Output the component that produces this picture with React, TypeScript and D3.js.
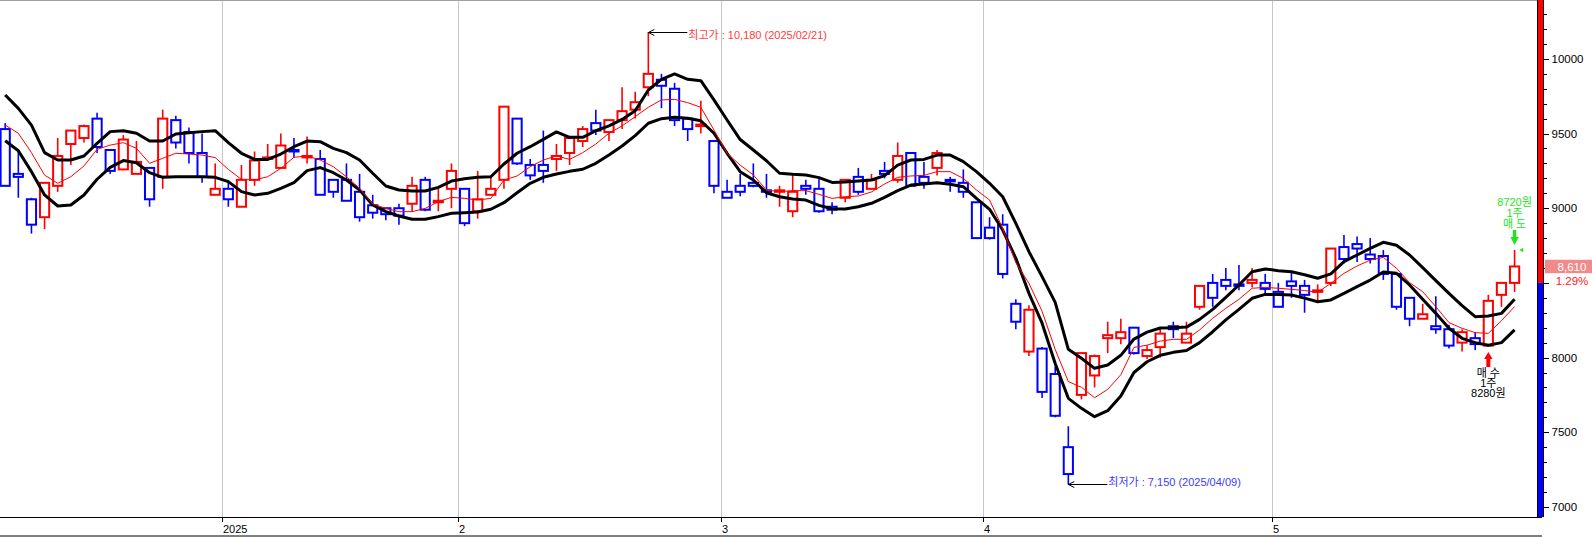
// @ts-nocheck
import React, { useEffect, useRef } from "react";
import * as d3 from "d3";

// trading days shown on the chart
const dates = [
  "2024-12-05", "2024-12-06", "2024-12-09", "2024-12-10", "2024-12-11", "2024-12-12", "2024-12-13",
  "2024-12-16", "2024-12-17", "2024-12-18", "2024-12-19", "2024-12-20", "2024-12-23", "2024-12-24",
  "2024-12-26", "2024-12-27", "2024-12-30",
  "2025-01-02", "2025-01-03", "2025-01-06", "2025-01-07", "2025-01-08", "2025-01-09", "2025-01-10",
  "2025-01-13", "2025-01-14", "2025-01-15", "2025-01-16", "2025-01-17", "2025-01-20", "2025-01-21",
  "2025-01-22", "2025-01-23", "2025-01-24", "2025-01-31",
  "2025-02-03", "2025-02-04", "2025-02-05", "2025-02-06", "2025-02-07", "2025-02-10", "2025-02-11",
  "2025-02-12", "2025-02-13", "2025-02-14", "2025-02-17", "2025-02-18", "2025-02-19", "2025-02-20",
  "2025-02-21", "2025-02-24", "2025-02-25", "2025-02-26", "2025-02-27", "2025-02-28",
  "2025-03-04", "2025-03-05", "2025-03-06", "2025-03-07", "2025-03-10", "2025-03-11", "2025-03-12",
  "2025-03-13", "2025-03-14", "2025-03-17", "2025-03-18", "2025-03-19", "2025-03-20", "2025-03-21",
  "2025-03-24", "2025-03-25", "2025-03-26", "2025-03-27", "2025-03-28", "2025-03-31",
  "2025-04-01", "2025-04-02", "2025-04-03", "2025-04-04", "2025-04-07", "2025-04-08", "2025-04-09",
  "2025-04-10", "2025-04-11", "2025-04-14", "2025-04-15", "2025-04-16", "2025-04-17", "2025-04-18",
  "2025-04-21", "2025-04-22", "2025-04-23", "2025-04-24", "2025-04-25", "2025-04-28", "2025-04-29",
  "2025-04-30",
  "2025-05-02", "2025-05-07", "2025-05-08", "2025-05-09", "2025-05-12", "2025-05-13", "2025-05-14",
  "2025-05-15", "2025-05-16", "2025-05-19", "2025-05-20", "2025-05-21", "2025-05-22", "2025-05-23",
  "2025-05-26", "2025-05-27", "2025-05-28", "2025-05-29", "2025-05-30",
];

const opens = [
  9530, 9230, 9060, 8940, 9150, 9430, 9470, 9600, 9390, 9260, 9230, 9270, 9210, 9590, 9510, 9370, 9090,
  9130, 9010, 9190, 9330, 9270, 9390, 9340, 9330, 9190, 9190, 9110, 9020, 9000, 9000, 9030, 9190, 9040, 9130,
  9130, 8980, 9090, 9190, 9600, 9290, 9290, 9330, 9370, 9450, 9570, 9510, 9590, 9660, 9810, 9860, 9800, 9600, 9550, 9450,
  9110, 9150, 9170, 9120, 9110, 8980, 9150, 9130, 9010, 9070, 9210, 9130, 9250, 9190, 9370, 9210, 9270, 9190, 9170, 9040,
  8870, 8890, 8360, 8040, 8060, 7890, 7400, 7750, 7880, 8130, 8130, 8200, 8010, 8070, 8210, 8100, 8340, 8500, 8520, 8490, 8500, 8500,
  8440, 8510, 8480, 8440, 8500, 8740, 8760, 8690, 8680, 8560, 8400, 8260, 8210, 8190, 8100, 8130, 8080, 8420, 8500,
];
const highs = [
  9570, 9380, 9070, 9170, 9470, 9520, 9560, 9640, 9390, 9490, 9450, 9270, 9660, 9620, 9540, 9500, 9300,
  9180, 9290, 9380, 9430, 9500, 9470, 9480, 9390, 9190, 9300, 9230, 9090, 9000, 9030, 9210, 9210, 9130, 9300,
  9130, 9250, 9210, 9680, 9600, 9330, 9520, 9430, 9470, 9550, 9660, 9590, 9810, 9780, 10180, 9900, 9840, 9600, 9720, 9450,
  9190, 9230, 9300, 9230, 9150, 9230, 9190, 9210, 9040, 9190, 9270, 9230, 9310, 9440, 9370, 9310, 9390, 9210, 9260, 9040,
  8940, 8960, 8390, 8350, 8070, 7940, 7540, 8030, 8020, 8240, 8260, 8200, 8080, 8190, 8240, 8240, 8480, 8560, 8600, 8620, 8600, 8560,
  8500, 8580, 8520, 8490, 8730, 8820, 8810, 8800, 8720, 8560, 8400, 8360, 8410, 8220, 8190, 8170, 8420, 8500, 8720,
];
const lows = [
  9150, 9070, 8830, 8860, 9110, 9290, 9440, 9370, 9230, 9260, 9230, 9010, 9130, 9400, 9300, 9170, 9090,
  9010, 9010, 9150, 9320, 9270, 9340, 9300, 9090, 9070, 9050, 8910, 8930, 8920, 8890, 8980, 8980, 8980, 9000,
  8880, 8930, 9090, 9130, 9290, 9190, 9170, 9250, 9290, 9410, 9490, 9450, 9530, 9600, 9750, 9670, 9550, 9450, 9500, 9100,
  9070, 9080, 9140, 9070, 9010, 8940, 9090, 8970, 8960, 9040, 9090, 9130, 9200, 9170, 9150, 9130, 9220, 9110, 9070, 8800,
  8790, 8530, 8190, 8010, 7730, 7600, 7150, 7720, 7800, 8030, 8090, 8020, 7990, 8000, 8130, 8100, 8320, 8340, 8450, 8450, 8470, 8420,
  8340, 8400, 8300, 8380, 8480, 8630, 8640, 8630, 8520, 8320, 8210, 8260, 8160, 8060, 8040, 8050, 8080, 8340, 8440,
];
const closes = [
  9150, 9210, 8890, 9170, 9350, 9520, 9550, 9410, 9250, 9460, 9310, 9060, 9600, 9440, 9370, 9210, 9130,
  9060, 9190, 9320, 9340, 9420, 9380, 9350, 9090, 9110, 9050, 8940, 8970, 8960, 8950, 9150, 8990, 9050, 9250,
  8900, 9060, 9130, 9680, 9300, 9220, 9250, 9350, 9470, 9530, 9520, 9590, 9650, 9710, 9900, 9820, 9590, 9530, 9560, 9150,
  9070, 9110, 9150, 9110, 9120, 9110, 9130, 8980, 8990, 9190, 9110, 9190, 9230, 9350, 9150, 9170, 9370, 9180, 9110, 8800,
  8800, 8560, 8240, 8320, 7770, 7610, 7220, 8030, 8010, 8150, 8170, 8030, 8050, 8160, 8190, 8160, 8480, 8400, 8480, 8480, 8520, 8460,
  8340, 8480, 8420, 8450, 8730, 8660, 8730, 8660, 8560, 8340, 8260, 8290, 8190, 8080, 8170, 8090, 8380, 8500, 8610,
];

// thin red average line
const maLine = [
  9557, 9502, 9372, 9222, 9167, 9211, 9283, 9394, 9423, 9439, 9401, 9301, 9334, 9368, 9363, 9356, 9339,
  9260, 9193, 9189, 9211, 9267, 9341, 9350, 9323, 9278, 9211, 9133, 9028, 8999, 8977, 8977, 8999, 9044, 9073,
  9066, 9055, 9066, 9189, 9216, 9278, 9323, 9350, 9327, 9372, 9430, 9502, 9551, 9613, 9676, 9725, 9729, 9707, 9676, 9524,
  9368, 9289, 9223, 9122, 9111, 9118, 9118, 9093, 9066, 9077, 9082, 9109, 9162, 9207, 9216, 9220, 9245, 9245, 9200, 9122,
  9055, 8865, 8635, 8497, 8310, 8055, 7839, 7801, 7731, 7787, 7885, 8068, 8083, 8110, 8122, 8122, 8185, 8263, 8330, 8390, 8464, 8470,
  8464, 8457, 8449, 8437, 8497, 8564, 8613, 8653, 8671, 8598, 8502, 8441, 8341, 8234, 8196, 8167, 8162, 8247, 8341,
];
// thick black upper / lower lines
const upperLine = [
  9758, 9669, 9557, 9372, 9323, 9323, 9350, 9435, 9513, 9519, 9502, 9450, 9450, 9497, 9506, 9513, 9519,
  9439, 9368, 9327, 9327, 9363, 9412, 9450, 9446, 9401, 9372, 9323, 9234, 9149, 9122, 9115, 9115, 9140, 9182,
  9198, 9207, 9211, 9296, 9368, 9412, 9461, 9511, 9475, 9475, 9519, 9551, 9595, 9653, 9792, 9863, 9899, 9863, 9854, 9725,
  9591, 9460, 9390, 9318, 9234, 9227, 9223, 9205, 9173, 9176, 9182, 9189, 9218, 9289, 9323, 9327, 9356, 9356, 9312, 9245,
  9167, 9077, 8899, 8709, 8542, 8370, 8055, 7995, 7928, 7950, 8015, 8124, 8170, 8198, 8200, 8204, 8256, 8323, 8403, 8486, 8575, 8593,
  8582, 8575, 8555, 8531, 8560, 8642, 8687, 8731, 8772, 8752, 8687, 8602, 8515, 8430, 8348, 8274, 8278, 8296, 8390,
];
const lowerLine = [
  9452, 9385, 9245, 9089, 9015, 9022, 9089, 9194, 9274, 9319, 9305, 9238, 9207, 9211, 9211, 9211, 9207,
  9178, 9111, 9089, 9100, 9133, 9171, 9252, 9272, 9238, 9189, 9122, 9022, 8977, 8948, 8926, 8926, 8944, 8966,
  8970, 8975, 8993, 9037, 9104, 9167, 9207, 9229, 9247, 9261, 9301, 9357, 9417, 9486, 9569, 9600, 9609, 9602, 9586, 9502,
  9368, 9245, 9189, 9104, 9077, 9062, 9055, 9019, 8997, 8995, 9010, 9033, 9073, 9118, 9155, 9162, 9171, 9160, 9144, 9066,
  8993, 8854, 8665, 8430, 8230, 7960, 7727, 7660, 7604, 7644, 7743, 7900, 7972, 8015, 8035, 8047, 8100, 8173, 8252, 8323, 8397, 8423,
  8423, 8419, 8398, 8374, 8386, 8430, 8475, 8519, 8573, 8564, 8486, 8390, 8296, 8196, 8129, 8100, 8082, 8100, 8185,
];

const monthStarts = ["2025-01-02", "2025-02-03", "2025-03-04", "2025-04-01", "2025-05-02"];
const monthLabels = ["2025", "2", "3", "4", "5"];
const yLabels = [7000, 7500, 8000, 9000, 9500, 10000];

const buyDate = "2025-05-28";
const buyText = ["매 수", "1주", "8280원"];
const sellDate = "2025-05-30";
const sellText = ["8720원", "1주", "매 도"];

const FONT = '"Liberation Sans", Arial, "Noto Sans CJK KR", sans-serif';

export default function App() {
  const svgRef = useRef();

  useEffect(() => {
    document.body.style.margin = "0";
    const W = 1592;
    const H = 537;
    const plotRight = 1538;
    const axisY = 517;

    const svg = d3.select(svgRef.current);
    svg.selectAll("*").remove();
    svg.attr("width", W).attr("height", H).style("font-family", FONT);

    svg.append("rect").attr("width", W).attr("height", H).attr("fill", "#ffffff");

    const step = 13.125;
    const x = d3
      .scaleBand()
      .domain(dates)
      .range([-1.36, -1.36 + dates.length * step])
      .padding(0);
    const cx = (d) => x(d) + x.bandwidth() / 2;
    const y = d3.scaleLinear().domain([7000, 10000]).range([506.9, 58.9]);

    // top border
    svg.append("line").attr("x1", 0).attr("x2", plotRight).attr("y1", 0.5).attr("y2", 0.5)
      .attr("stroke", "#a0a0a0");

    // month grid lines
    monthStarts.forEach((d, k) => {
      const gx = Math.round(x(d)) + 0.5;
      svg.append("line").attr("x1", gx).attr("x2", gx).attr("y1", 1).attr("y2", axisY)
        .attr("stroke", "#c8c8c8");
      svg.append("line").attr("x1", gx).attr("x2", gx).attr("y1", axisY).attr("y2", axisY + 5)
        .attr("stroke", "#000");
      svg.append("text").attr("x", gx + 0.5).attr("y", 532.5).attr("font-size", 11)
        .attr("fill", "#000").text(monthLabels[k]);
    });

    // bottom axis lines
    svg.append("line").attr("x1", 0).attr("x2", plotRight + 4).attr("y1", axisY + 0.5).attr("y2", axisY + 0.5)
      .attr("stroke", "#000");
    svg.append("line").attr("x1", 0).attr("x2", plotRight + 4).attr("y1", 536).attr("y2", 536)
      .attr("stroke", "#000");

    // candles
    const candles = svg.append("g");
    dates.forEach((d, i) => {
      const o = opens[i];
      const c = closes[i];
      const up = c >= o;
      const col = up ? "#ff0000" : "#0000ff";
      const top = y(Math.max(o, c));
      const bot = y(Math.min(o, c));
      const xc = cx(d);
      candles.append("line").attr("x1", xc).attr("x2", xc).attr("y1", y(highs[i])).attr("y2", top)
        .attr("stroke", col).attr("stroke-width", 1.6);
      candles.append("line").attr("x1", xc).attr("x2", xc).attr("y1", bot).attr("y2", y(lows[i]))
        .attr("stroke", col).attr("stroke-width", 1.6);
      candles.append("rect").attr("x", xc - 4.6).attr("width", 9.2).attr("y", top)
        .attr("height", Math.max(1, bot - top)).attr("fill", "none")
        .attr("stroke", col).attr("stroke-width", 2);
    });

    // lines
    const lineGen = (vals) =>
      d3.line().x((_, i) => cx(dates[i])).y((v) => y(v))(vals);
    svg.append("path").attr("d", lineGen(upperLine)).attr("fill", "none")
      .attr("stroke", "#000").attr("stroke-width", 3).attr("stroke-linejoin", "round");
    svg.append("path").attr("d", lineGen(lowerLine)).attr("fill", "none")
      .attr("stroke", "#000").attr("stroke-width", 3).attr("stroke-linejoin", "round");
    svg.append("path").attr("d", lineGen(maLine)).attr("fill", "none")
      .attr("stroke", "#ff0000").attr("stroke-width", 1);

    const fmt = d3.format(",");

    // highest / lowest annotations
    const hi = d3.maxIndex(highs);
    const lo = d3.minIndex(lows);
    const arrow = (x0, y0, len) => {
      svg.append("line").attr("x1", x0).attr("x2", x0 + len).attr("y1", y0).attr("y2", y0)
        .attr("stroke", "#000");
      svg.append("path").attr("d", `M${x0 + 6},${y0 - 3}L${x0},${y0}L${x0 + 6},${y0 + 3}`)
        .attr("fill", "none").attr("stroke", "#000");
    };
    const hx = cx(dates[hi]);
    const hy = Math.round(y(highs[hi])) + 0.5;
    arrow(hx, hy, 39);
    svg.append("text").attr("x", hx + 40).attr("y", hy + 6).attr("font-size", 11).attr("fill", "#ff3c3c")
      .text(`최고가 : ${fmt(highs[hi])} (${dates[hi].replace(/-/g, "/")})`);
    const lx = cx(dates[lo]);
    const ly = Math.round(y(lows[lo])) + 0.5;
    arrow(lx, ly, 39);
    svg.append("text").attr("x", lx + 40).attr("y", ly + 1.5).attr("font-size", 11).attr("fill", "#3c3cff")
      .text(`최저가 : ${fmt(lows[lo])} (${dates[lo].replace(/-/g, "/")})`);

    // buy marker
    const bi = dates.indexOf(buyDate);
    const bx = cx(buyDate);
    const by = y(lows[bi]) + 6.5;
    svg.append("path")
      .attr("d", `M${bx},${by}L${bx + 4.2},${by + 7}L${bx + 2},${by + 7}L${bx + 2},${by + 15}L${bx - 2},${by + 15}L${bx - 2},${by + 7}L${bx - 4.2},${by + 7}Z`)
      .attr("fill", "#ff0000");
    buyText.forEach((t, k) => {
      svg.append("text").attr("x", bx).attr("y", by + 25 + k * 10).attr("text-anchor", "middle")
        .attr("font-size", 11).attr("fill", "#000").text(t);
    });

    // sell marker
    const si = dates.indexOf(sellDate);
    const sx = cx(sellDate);
    const sy = y(highs[si]) - 5;
    svg.append("path")
      .attr("d", `M${sx},${sy}L${sx + 4.2},${sy - 8}L${sx + 1.7},${sy - 8}L${sx + 1.7},${sy - 15}L${sx - 1.7},${sy - 15}L${sx - 1.7},${sy - 8}L${sx - 4.2},${sy - 8}Z`)
      .attr("fill", "#1ee61e");
    sellText.forEach((t, k) => {
      svg.append("text").attr("x", sx).attr("y", sy - 39.5 + k * 11).attr("text-anchor", "middle")
        .attr("font-size", 11).attr("fill", "#1ee61e").text(t);
    });
    const ty = y(highs[si]);
    svg.append("path").attr("d", `M${sx + 4.7},${ty}L${sx + 8.7},${ty - 2.3}L${sx + 8.7},${ty + 2.3}Z`)
      .attr("fill", "#1ee61e");

    // right axis
    const last = closes[closes.length - 1];
    const prev = closes[closes.length - 2];
    const splitY = y(prev);
    svg.append("rect").attr("x", plotRight).attr("y", 0).attr("width", 5).attr("height", splitY)
      .attr("fill", "#ff0000");
    svg.append("rect").attr("x", plotRight).attr("y", splitY).attr("width", 5).attr("height", axisY - splitY)
      .attr("fill", "#0000ff");
    svg.append("line").attr("x1", plotRight - 0.5).attr("x2", plotRight - 0.5).attr("y1", 0).attr("y2", axisY)
      .attr("stroke", "#000");
    svg.append("line").attr("x1", plotRight + 5.5).attr("x2", plotRight + 5.5).attr("y1", 0).attr("y2", axisY)
      .attr("stroke", "#000");

    d3.range(7000, 10400, 100).forEach((v) => {
      const ty2 = Math.round(y(v)) + 0.5;
      const major = v % 500 === 0;
      svg.append("line").attr("x1", plotRight + 6).attr("x2", plotRight + (major ? 11 : 9))
        .attr("y1", ty2).attr("y2", ty2).attr("stroke", "#000");
    });
    yLabels.forEach((v) => {
      svg.append("text").attr("x", 1551.5).attr("y", y(v) + 4).attr("font-size", 11.5)
        .attr("fill", "#000").text(v);
    });

    // current price label
    const py = y(last);
    svg.append("rect").attr("x", 1545).attr("y", py - 6.7).attr("width", 47).attr("height", 13.4)
      .attr("fill", "#f28a8a");
    svg.append("text").attr("x", 1572).attr("y", py + 4.3).attr("text-anchor", "middle")
      .attr("font-size", 11.5).attr("fill", "#ffffff").text(fmt(last));
    svg.append("text").attr("x", 1572).attr("y", py + 19).attr("text-anchor", "middle")
      .attr("font-size", 11.5).attr("fill", "#ff2020")
      .text(`${d3.format(".2f")(((last - prev) / prev) * 100)}%`);
  }, []);

  return <svg ref={svgRef} style={{ display: "block" }}></svg>;
}
